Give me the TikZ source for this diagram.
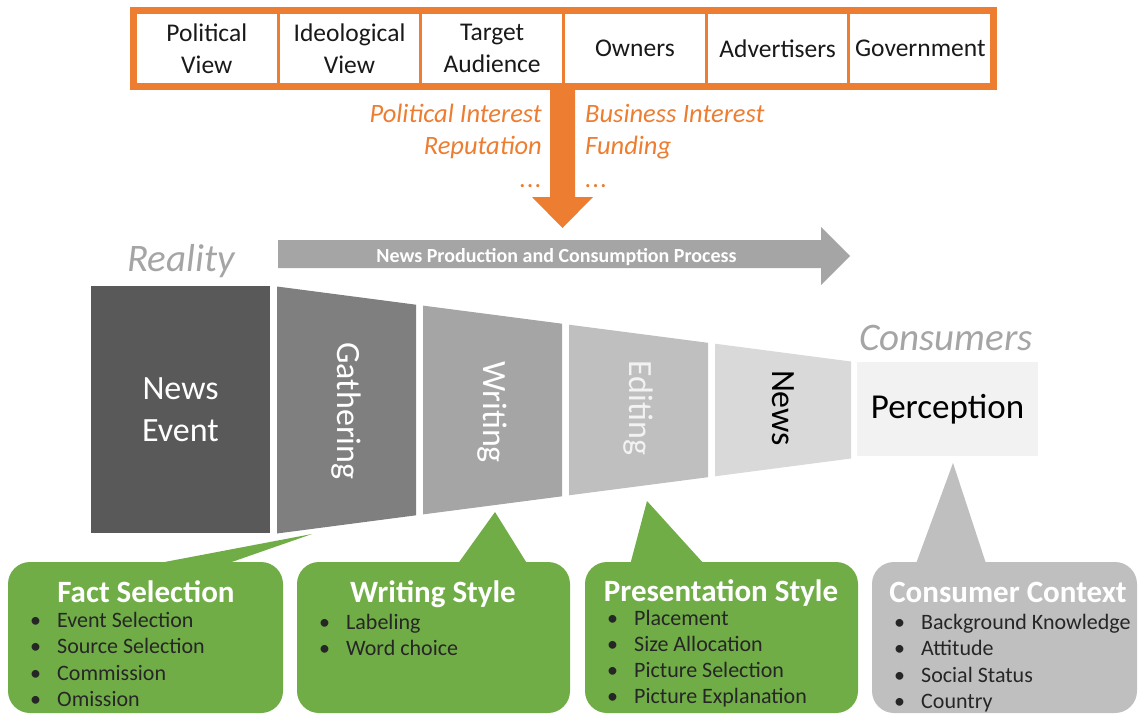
\documentclass[tikz,border=0pt]{standalone}
\usepackage{fontspec}
\setmainfont{Carlito}
\usetikzlibrary{positioning}

\definecolor{mborange}{HTML}{ED7D31}
\definecolor{mbgreen}{HTML}{70AD47}
\definecolor{mbgrayA}{HTML}{595959}
\definecolor{mbgrayB}{HTML}{7F7F7F}
\definecolor{mbgrayC}{HTML}{A5A5A5}
\definecolor{mbgrayD}{HTML}{BFBFBF}
\definecolor{mbgrayE}{HTML}{D9D9D9}
\definecolor{mbgrayF}{HTML}{F2F2F2}

\newcommand{\bul}{\makebox[27pt][l]{•}}

\begin{document}
\begin{tikzpicture}[x=1pt,y=-1pt,
    every node/.style={inner sep=0pt},
    cell/.style={fill=white,minimum width=139.7pt,minimum height=69pt,align=center,
      text=black!90,font=\fontsize{25.5}{32}\selectfont},
    factor/.style={text=mborange,font=\fontsize{26.5}{32}\selectfont\itshape},
    stagetext/.style={rotate=-90,font=\fontsize{34}{42}\selectfont},
    callout/.style={rounded corners=22pt,minimum width=#1,minimum height=151pt},
    title/.style={anchor=base,text=white,font=\fontsize{31}{36}\selectfont\bfseries},
    item/.style={anchor=base west,text=black!85,font=\fontsize{22}{26}\selectfont},
    heading/.style={anchor=base,text=mbgrayC,font=\fontsize{39}{44}\selectfont\itshape}]
  \useasboundingbox (0,0) rectangle (1139,714);

  \node[fill=mborange,minimum width=867pt,minimum height=83pt] (factors) at (563.5,48.5) {};
  \foreach \t [count=\i] in {{Political\\View},{Ideological\\View},{Target\\Audience},Owners,Advertisers,Government}
    \node[cell] (cell\i) at (64.1+142.7*\i,48.5) {\t};

  \coordinate (inflow) at (562.5,89);
  \fill[mborange] (inflow) ++(-12.5,0) -- ++(25,0) -- ++(0,108) -- ++(18,0)
    -- ++(-30.5,31) -- ++(-30.5,-31) -- ++(18,0) -- cycle;
  \node[factor,anchor=base east] (polit1) at (542,123) {Political Interest};
  \node[factor,anchor=base east] (polit2) at (542,155) {Reputation};
  \node[factor,anchor=base east] (polit3) at (542,187) {.\kern1pt.\kern1pt.};
  \node[factor,anchor=base west] (busin1) at (585,123) {Business Interest};
  \node[factor,anchor=base west] (busin2) at (585,155) {Funding};
  \node[factor,anchor=base west] (busin3) at (585,187) {.\kern1pt.\kern1pt.};

  \fill[mbgrayC] (278,240) -- (821,240) -- (821,227) -- (850,256) -- (821,285) -- (821,268) -- (278,268) -- cycle;
  \node[anchor=base,text=white,font=\fontsize{20}{24}\selectfont\bfseries] (process) at (556.5,262) {News Production and Consumption Process};

  \node[heading] (reality) at (181,271) {Reality};
  \node[heading] (consumers) at (946,350) {Consumers};

  \node[fill=mbgrayA,minimum width=179pt,minimum height=247pt,text=white,align=center,
    font=\fontsize{34}{42}\selectfont] (event) at (180.5,409.5) {News\\Event};

  \fill[mbgrayB] (277,286.5) -- (416,304.7) -- (416,515.3) -- (277,533.5) -- cycle;
  \fill[mbgrayC] (423,305.6) -- (562,323.7) -- (562,496.3) -- (423,514.4) -- cycle;
  \fill[mbgrayD] (569,324.7) -- (708,342.8) -- (708,477.2) -- (569,495.3) -- cycle;
  \fill[mbgrayE] (715,343.7) -- (851,361.5) -- (851,458.5) -- (715,476.3) -- cycle;
  \node[stagetext,text=white] (gather) at (346.5,411) {Gathering};
  \node[stagetext,text=white] (write) at (492.5,412) {Writing};
  \node[stagetext,text=mbgrayF] (edit) at (638.5,408) {Editing};
  \node[stagetext,text=black] (news) at (783,408) {News};

  \node[fill=mbgrayF,minimum width=181pt,minimum height=94pt,text=black,
    font=\fontsize{35}{42}\selectfont] (percept) at (947.5,409) {Perception};

  \node[callout=275pt,fill=mbgreen] (factbox) at (145.5,637.5) {};
  \node[callout=273pt,fill=mbgreen] (stylebox) at (433.5,637.5) {};
  \node[callout=273pt,fill=mbgreen] (presbox) at (721.5,637.5) {};
  \node[callout=265pt,fill=mbgrayD] (contextbox) at (1004.5,637.5) {};

  \coordinate (facttip) at (312,534);
  \coordinate (styletip) at (495,512);
  \coordinate (prestip) at (647,501);
  \coordinate (contexttip) at (953,463);
  \fill[mbgreen] (154,564) -- (facttip) -- (226,564) -- cycle;
  \fill[mbgreen] (457,565) -- (styletip) -- (528,565) -- cycle;
  \fill[mbgreen] (630,565) -- (prestip) -- (705,565) -- cycle;
  \fill[mbgrayD] (915.5,565) -- (contexttip) -- (986.5,565) -- cycle;

  \node[title] (facttitle) at (146,602) {Fact Selection};
  \node[title] (styletitle) at (433,602) {Writing Style};
  \node[title] (prestitle) at (721,601) {Presentation Style};
  \node[title] (contexttitle) at (1008,602) {Consumer Context};

  \foreach \t [count=\i] in {Event Selection,Source Selection,Commission,Omission}
    \node[item] (fact\i) at (30,600.5+26.5*\i) {\bul\t};
  \foreach \t [count=\i] in {Labeling,Word choice}
    \node[item] (style\i) at (319,602.5+26.5*\i) {\bul\t};
  \foreach \t [count=\i] in {Placement,Size Allocation,Picture Selection,Picture Explanation}
    \node[item] (pres\i) at (607,599.5+26*\i) {\bul\t};
  \foreach \t [count=\i] in {Background Knowledge,Attitude,Social Status,Country}
    \node[item] (context\i) at (894,602.5+26.5*\i) {\bul\t};
\end{tikzpicture}
\end{document}
